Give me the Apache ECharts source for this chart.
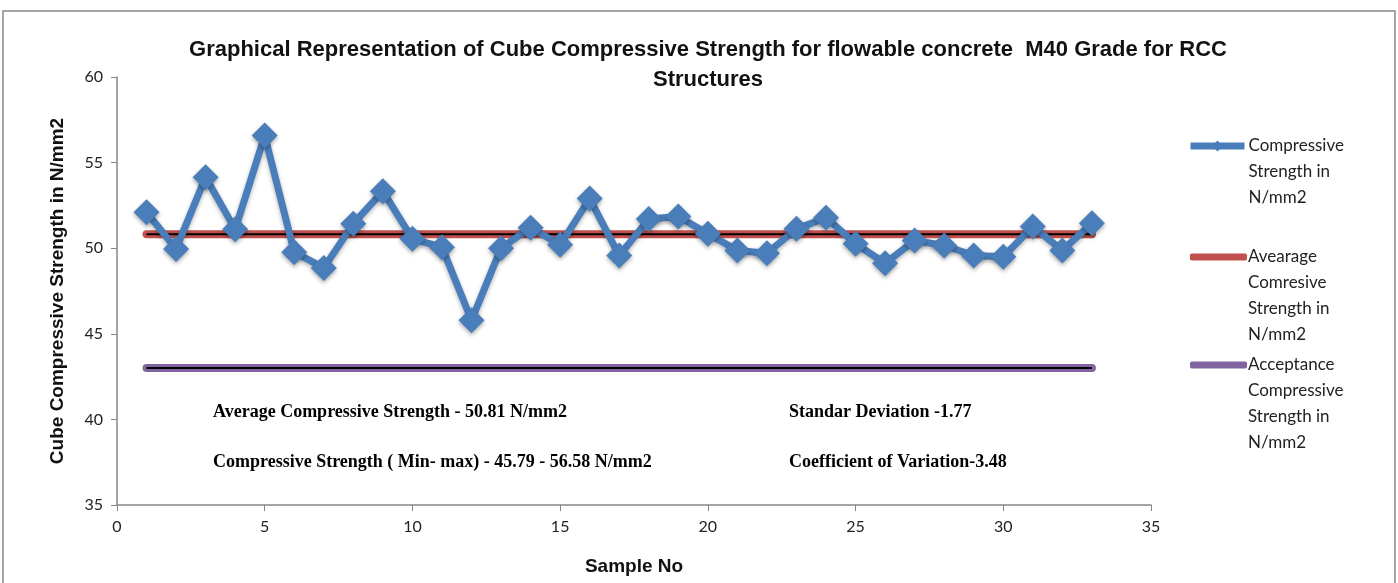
<!DOCTYPE html>
<html>
<head>
<meta charset="utf-8">
<script src="https://cdn.jsdelivr.net/npm/echarts@6/dist/echarts.min.js"></script>
<style>
  html, body { margin: 0; padding: 0; background: #fff; }
  #chart { width: 1398px; height: 583px; }
</style>
</head>
<body>
<div id="chart"></div>
<script>
// 样本编号与抗压强度 (N/mm2)
var sampleNo = [1, 2, 3, 4, 5, 6, 7, 8, 9, 10, 11, 12, 13, 14, 15, 16, 17,
                18, 19, 20, 21, 22, 23, 24, 25, 26, 27, 28, 29, 30, 31, 32, 33];
var strength = [52.1, 49.96, 54.15, 51.1, 56.58, 49.77, 48.85, 51.43, 53.33, 50.55, 50.06,
                45.79, 50.0, 51.2, 50.2, 52.9, 49.57, 51.7, 51.85, 50.84, 49.87, 49.71,
                51.13, 51.78, 50.26, 49.12, 50.45, 50.16, 49.57, 49.5, 51.27, 49.87, 51.46];
var averageValue = 50.81;     // 平均值
var acceptanceValue = 43;     // 验收值
var lineRange = [1, 33];      // 水平线起止

var seriesNames = [
    'Compressive Strength in N/mm2',
    'Avearage Comresive Strength in N/mm2',
    'Acceptance Compressive Strength in N/mm2'
];
var legendLines = [
    ['Compressive', 'Strength in', 'N/mm2'],
    ['Avearage', 'Comresive', 'Strength in', 'N/mm2'],
    ['Acceptance', 'Compressive', 'Strength in', 'N/mm2']
];
var notes = [
    'Average Compressive Strength - 50.81 N/mm2',
    'Standar Deviation -1.77',
    'Compressive Strength ( Min- max) - 45.79 - 56.58 N/mm2',
    'Coefficient of Variation-3.48'
];

var strengthData = sampleNo.map(function (n, i) { return [n, strength[i]]; });
var avgData = lineRange.map(function (x) { return [x, averageValue]; });
var accData = lineRange.map(function (x) { return [x, acceptanceValue]; });

var narrowFont = '"Liberation Sans Narrow", "Liberation Sans", sans-serif';
var textFont = 'Lato, "Liberation Sans", sans-serif';
var serifFont = '"Liberation Serif", "DejaVu Serif", serif';

// 图例：让图标对齐第一行文字
function legendFormatter(idx) {
    return function () {
        var lines = legendLines[idx];
        var pad = [];
        for (var i = 0; i < lines.length - 1; i++) pad.push('');
        return pad.concat(lines).join('\n');
    };
}
function makeLegend(idx, top, color, withSymbol) {
    return {
        data: [withSymbol ? seriesNames[idx] : { name: seriesNames[idx], icon: 'roundRect' }],
        orient: 'vertical',
        left: withSymbol ? 1187 : 1190,
        top: top,
        itemWidth: withSymbol ? 54 : 57,
        itemHeight: withSymbol ? 14 : 7,
        itemGap: 0,
        padding: 0,
        selectedMode: false,
        itemStyle: { color: color },
        lineStyle: { color: color, width: 7, cap: 'butt' },
        formatter: legendFormatter(idx),
        textStyle: { fontFamily: textFont, fontSize: 17, color: '#222', lineHeight: 26,
                     padding: [0, 0, 0, withSymbol ? -1 : -4] }
    };
}

var chart = echarts.init(document.getElementById('chart'));
chart.setOption({
    backgroundColor: '#fff',
    animation: false,
    title: {
        text: 'Graphical Representation of Cube Compressive Strength for flowable concrete  M40 Grade for RCC\nStructures',
        left: 703,
        textAlign: 'center',
        top: 30,
        textStyle: { fontFamily: narrowFont, fontSize: 22, fontWeight: 'bold', color: '#111', lineHeight: 30 }
    },
    legend: [
        makeLegend(0, 146 - 2.5 * 26, '#4a7ebb', true),
        makeLegend(1, 257 - 3.5 * 26, '#c0504d', false),
        makeLegend(2, 365 - 3.5 * 26, '#8064a2', false)
    ],
    grid: { left: 117, right: 247, top: 77, bottom: 78 },
    xAxis: {
        type: 'value',
        min: 0, max: 35, interval: 5,
        name: 'Sample No',
        nameLocation: 'middle',
        nameGap: 52,
        nameTextStyle: { fontFamily: narrowFont, fontSize: 19, fontWeight: 'bold', color: '#111' },
        axisLine: { lineStyle: { color: '#868686', width: 1.5 } },
        axisTick: { lineStyle: { color: '#868686' }, length: 6 },
        axisLabel: { fontFamily: textFont, fontSize: 16, color: '#222', margin: 14 },
        splitLine: { show: false }
    },
    yAxis: {
        type: 'value',
        min: 35, max: 60, interval: 5,
        name: 'Cube Compressive Strength in N/mm2',
        nameLocation: 'middle',
        nameGap: 50,
        nameTextStyle: { fontFamily: narrowFont, fontSize: 19, fontWeight: 'bold', color: '#111' },
        axisLine: { show: true, lineStyle: { color: '#868686', width: 1.5 } },
        axisTick: { show: true, lineStyle: { color: '#868686' }, length: 6 },
        axisLabel: { fontFamily: textFont, fontSize: 16, color: '#222', margin: 14 },
        splitLine: { show: false }
    },
    series: [
        {
            name: seriesNames[1],
            type: 'line',
            data: avgData,
            symbol: 'none',
            z: 2,
            color: '#c0504d',
            lineStyle: { color: '#c0504d', width: 8, cap: 'round' }
        },
        {
            name: 'avg-core',
            type: 'line',
            data: avgData,
            symbol: 'none',
            silent: true,
            z: 3,
            lineStyle: { color: '#000', width: 2 }
        },
        {
            name: seriesNames[2],
            type: 'line',
            data: accData,
            symbol: 'none',
            z: 2,
            color: '#8064a2',
            lineStyle: { color: '#8064a2', width: 8, cap: 'round' }
        },
        {
            name: 'acc-core',
            type: 'line',
            data: accData,
            symbol: 'none',
            silent: true,
            z: 3,
            lineStyle: { color: '#000', width: 2 }
        },
        {
            name: seriesNames[0],
            type: 'line',
            data: strengthData,
            symbol: 'diamond',
            symbolSize: 26,
            z: 4,
            color: '#4a7ebb',
            itemStyle: { color: '#4a7ebb', shadowBlur: 4, shadowColor: 'rgba(0,0,0,0.35)', shadowOffsetY: 2 },
            lineStyle: { color: '#4a7ebb', width: 7, shadowBlur: 4, shadowColor: 'rgba(0,0,0,0.3)', shadowOffsetY: 2 }
        }
    ],
    graphic: [
        {
            type: 'rect',
            shape: { x: 3, y: 11, width: 1392, height: 590 },
            style: { fill: 'none', stroke: '#888', lineWidth: 1.5 },
            silent: true
        },
        { type: 'text', left: 213, top: 403, style: { text: notes[0], font: 'bold 18px ' + serifFont, fill: '#000' } },
        { type: 'text', left: 789, top: 403, style: { text: notes[1], font: 'bold 18px ' + serifFont, fill: '#000' } },
        { type: 'text', left: 213, top: 453, style: { text: notes[2], font: 'bold 18px ' + serifFont, fill: '#000' } },
        { type: 'text', left: 789, top: 453, style: { text: notes[3], font: 'bold 18px ' + serifFont, fill: '#000' } }
    ]
});
</script>
</body>
</html>
